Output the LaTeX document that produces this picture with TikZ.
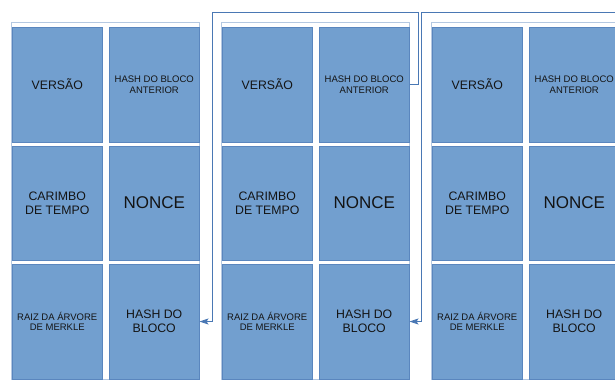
\documentclass[tikz,border=0pt]{standalone}
\usepackage{fontspec}
\setmainfont{Liberation Sans}
\usetikzlibrary{arrows.meta}
\definecolor{cellfill}{HTML}{729FCF}
\definecolor{cellline}{HTML}{5A86BE}
\definecolor{frameline}{HTML}{B4C8E1}
\definecolor{linkline}{HTML}{4A78B4}
\definecolor{txt}{HTML}{141414}
\tikzset{
 cell/.style={draw=cellline, line width=0.5pt, fill=cellfill, minimum width=90pt, minimum height=114.5pt, inner sep=0pt, anchor=north west, align=center, text=txt, font=\fontsize{12.3}{13.8}\selectfont},
 smalltext/.style={font=\fontsize{9.5}{10.5}\selectfont},
 bigtext/.style={font=\fontsize{17}{20}\selectfont},
 blockframe/.style={draw=frameline, line width=0.6pt},
 link/.style={draw=linkline, line width=0.8pt, -{Stealth[length=9pt,width=6pt,inset=2pt]}},
}
\begin{document}
\begin{tikzpicture}[x=1pt,y=-1pt]
\useasboundingbox (0,0) rectangle (615,380);
\clip (0,0) rectangle (615,380);
\foreach \i in {1,2,3} {
  \pgfmathsetmacro\x{12+210*(\i-1)}
  \draw[blockframe] (\x-1,22) rectangle (\x+187,379);
  \node[cell] (b\i v) at (\x,27) {VERSÃO};
  \node[cell,smalltext] (b\i h) at (\x+97,27) {HASH DO BLOCO\\ANTERIOR};
  \node[cell] (b\i c) at (\x,145.5) {CARIMBO\\DE TEMPO};
  \node[cell,bigtext] (b\i n) at (\x+97,145.5) {NONCE};
  \node[cell,smalltext] (b\i r) at (\x,264) {RAIZ DA ÁRVORE\\DE MERKLE};
  \node[cell] (b\i k) at (\x+97,264) {HASH DO\\BLOCO};
}
\coordinate (u2) at (418,12);
\coordinate (d2) at (212,12);
\coordinate (u3) at (628,12);
\coordinate (d3) at (421,12);
\draw[link] (b2h.east) -| (u2) -- (d2) |- (b1k.east);
\draw[link] (b3h.east) -| (u3) -- (d3) |- (b2k.east);
\end{tikzpicture}
\end{document}
